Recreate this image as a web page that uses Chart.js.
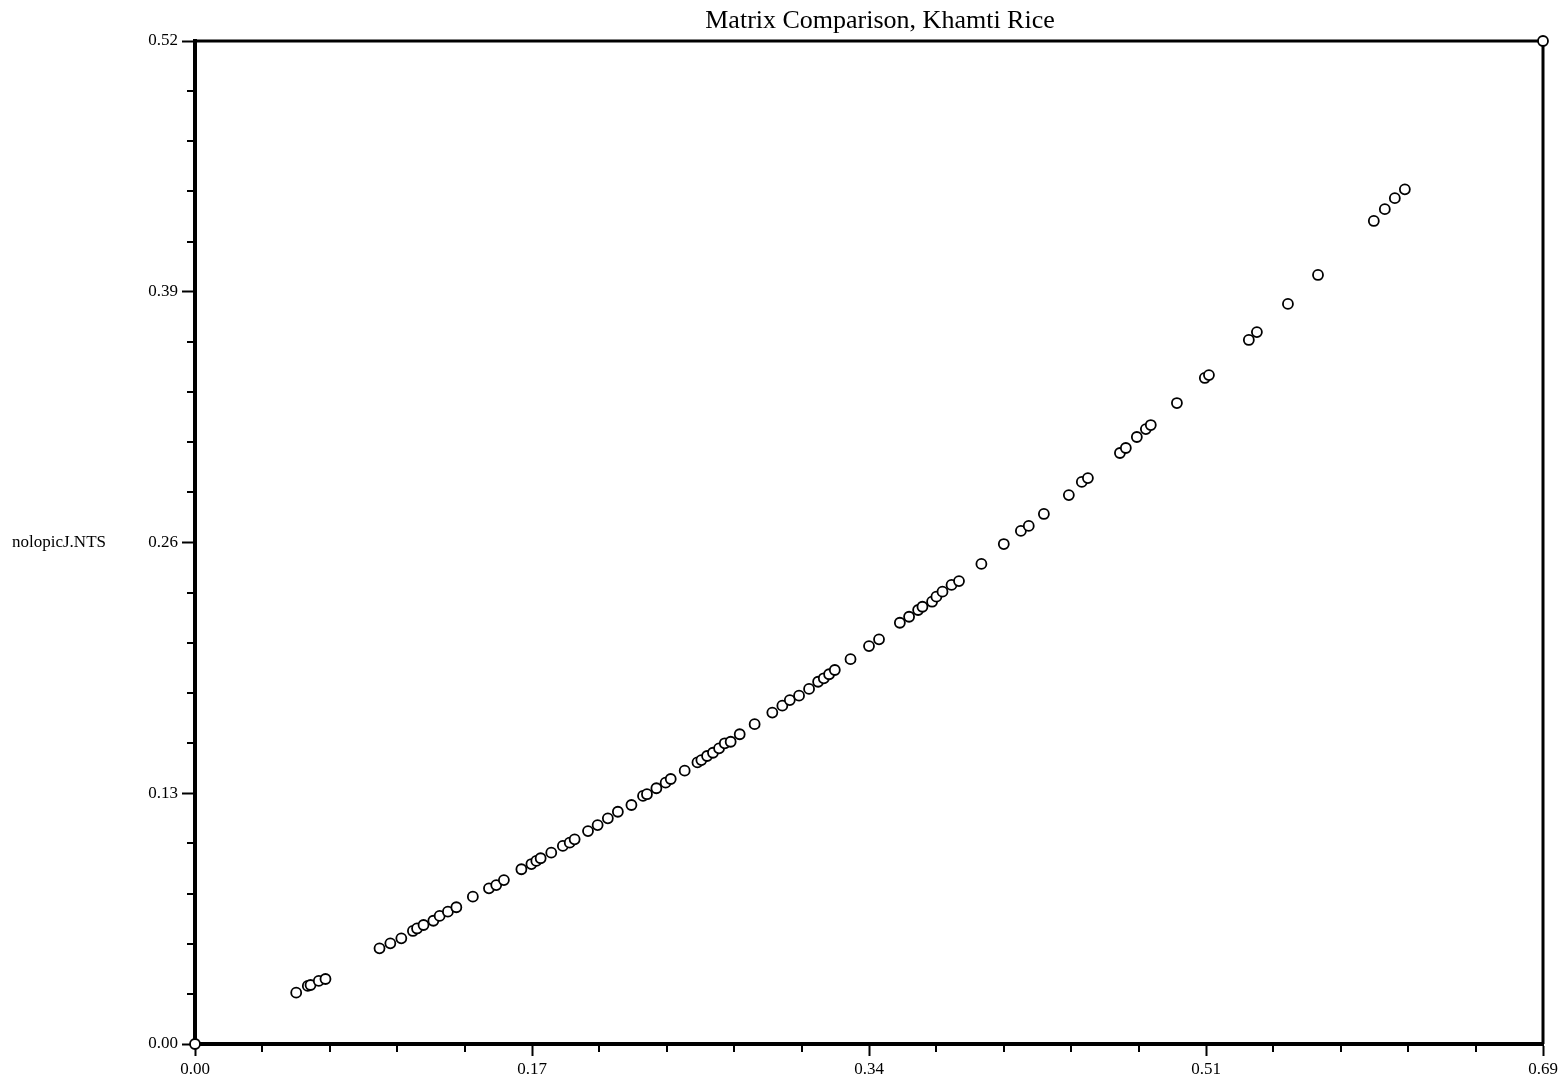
<!DOCTYPE html>
<html><head><meta charset="utf-8">
<script src="https://cdn.jsdelivr.net/npm/chart.js@4/dist/chart.umd.min.js"></script>
<style>html,body{margin:0;padding:0;background:#fff;}#wrap{width:1564px;height:1078px;position:relative;}</style>
</head><body><div id="wrap"><canvas id="c" width="1564" height="1078"></canvas></div>
<script>
const titleText = 'Matrix Comparison, Khamti Rice';
const yAxisLabel = 'nolopicJ.NTS';
const xTickValues = [0, 0.1715, 0.343, 0.5145, 0.686];
const xTickLabels = ['0.00', '0.17', '0.34', '0.51', '0.69'];
const yTickValues = [0, 0.13, 0.26, 0.39, 0.52];
const yTickLabels = ['0.00', '0.13', '0.26', '0.39', '0.52'];
const xValues = [0, 0.0515, 0.0574, 0.0588, 0.0630, 0.0664, 0.0939, 0.0994, 0.1050, 0.1109, 0.1130, 0.1163, 0.1213, 0.1245, 0.1287, 0.1330, 0.1414, 0.1496, 0.1533, 0.1572, 0.1661, 0.1712, 0.1737, 0.1759, 0.1813, 0.1872, 0.1907, 0.1932, 0.2000, 0.2049, 0.2101, 0.2152, 0.2221, 0.2280, 0.2300, 0.2348, 0.2395, 0.2421, 0.2492, 0.2557, 0.2577, 0.2606, 0.2636, 0.2667, 0.2696, 0.2726, 0.2772, 0.2848, 0.2938, 0.2989, 0.3027, 0.3074, 0.3125, 0.3171, 0.3200, 0.3227, 0.3256, 0.3336, 0.3430, 0.3481, 0.3587, 0.3634, 0.3680, 0.3702, 0.3751, 0.3773, 0.3804, 0.3850, 0.3888, 0.4002, 0.4116, 0.4203, 0.4243, 0.4320, 0.4447, 0.4513, 0.4544, 0.4707, 0.4737, 0.4793, 0.4839, 0.4864, 0.4997, 0.5139, 0.5160, 0.5363, 0.5404, 0.5562, 0.5715, 0.5999, 0.6055, 0.6106, 0.6157, 0.686];
const yValues = [0, 0.0266, 0.0301, 0.0306, 0.0327, 0.0337, 0.0496, 0.0522, 0.0548, 0.0586, 0.0599, 0.0617, 0.0639, 0.0664, 0.0686, 0.0709, 0.0764, 0.0807, 0.0824, 0.0850, 0.0906, 0.0933, 0.0949, 0.0963, 0.0992, 0.1027, 0.1044, 0.1061, 0.1104, 0.1135, 0.1170, 0.1204, 0.1239, 0.1286, 0.1295, 0.1326, 0.1355, 0.1374, 0.1417, 0.1460, 0.1472, 0.1493, 0.1510, 0.1533, 0.1559, 0.1567, 0.1606, 0.1658, 0.1718, 0.1754, 0.1783, 0.1806, 0.1841, 0.1878, 0.1896, 0.1917, 0.1939, 0.1995, 0.2063, 0.2098, 0.2184, 0.2215, 0.2250, 0.2267, 0.2293, 0.2319, 0.2345, 0.2380, 0.2400, 0.2489, 0.2592, 0.2660, 0.2686, 0.2748, 0.2846, 0.2914, 0.2934, 0.3064, 0.3090, 0.3147, 0.3188, 0.3209, 0.3323, 0.3453, 0.3468, 0.3650, 0.3691, 0.3837, 0.3987, 0.4267, 0.4328, 0.4385, 0.4431, 0.52];
const minorPerMajor = 5;

const points = xValues.map((x, i) => ({x: x, y: yValues[i]}));
Chart.defaults.font.family = "'Liberation Serif', 'Times New Roman', serif";
Chart.defaults.color = '#000';

const framePlugin = {
  id: 'frame',
  beforeDatasetsDraw(chart) {
    const ctx = chart.ctx, a = chart.chartArea;
    const xs = chart.scales.x, ys = chart.scales.y;
    ctx.save();
    ctx.strokeStyle = '#000';
    ctx.lineWidth = 3;
    ctx.beginPath();
    ctx.moveTo(a.left, a.top); ctx.lineTo(a.right, a.top); ctx.lineTo(a.right, a.bottom);
    ctx.stroke();
    ctx.lineWidth = 2;
    const xStep = (xTickValues[1] - xTickValues[0]) / minorPerMajor;
    const nX = Math.round((xTickValues[xTickValues.length-1]-xTickValues[0]) / xStep);
    ctx.beginPath();
    for (let i = 0; i <= nX; i++) {
      if (i % minorPerMajor === 0) continue;
      const px = Math.round(xs.getPixelForValue(xTickValues[0] + i * xStep));
      ctx.moveTo(px, a.bottom); ctx.lineTo(px, a.bottom + 8);
    }
    const yStep = (yTickValues[1] - yTickValues[0]) / minorPerMajor;
    const nY = Math.round((yTickValues[yTickValues.length-1]-yTickValues[0]) / yStep);
    for (let i = 0; i <= nY; i++) {
      if (i % minorPerMajor === 0) continue;
      const py = Math.round(ys.getPixelForValue(yTickValues[0] + i * yStep));
      ctx.moveTo(a.left - 8, py); ctx.lineTo(a.left, py);
    }
    ctx.stroke();
    ctx.restore();
  },
  afterDraw(chart) {
    const ctx = chart.ctx, a = chart.chartArea;
    ctx.save();
    ctx.fillStyle = '#000';
    ctx.font = "26px 'Liberation Serif'";
    ctx.textAlign = 'center';
    ctx.textBaseline = 'alphabetic';
    ctx.fillText(titleText, 880, 28);
    ctx.font = "17px 'Liberation Serif'";
    ctx.textAlign = 'left';
    ctx.textBaseline = 'middle';
    ctx.fillText(yAxisLabel, 12, (a.top + a.bottom) / 2);
    ctx.restore();
  }
};

new Chart(document.getElementById('c'), {
  type: 'scatter',
  data: { datasets: [{
    data: points,
    pointRadius: 5,
    pointHoverRadius: 5,
    pointBorderWidth: 1.8,
    pointBorderColor: '#000',
    pointBackgroundColor: '#fff',
    showLine: false,
    clip: false
  }]},
  options: {
    responsive: false,
    animation: false,
    devicePixelRatio: 1,
    events: [],
    layout: { padding: { left: 0, top: 41, right: 21, bottom: 0 } },
    plugins: { legend: { display: false }, tooltip: { enabled: false }, title: { display: false } },
    scales: {
      x: {
        type: 'linear', position: 'bottom',
        min: xTickValues[0], max: xTickValues[xTickValues.length-1],
        afterBuildTicks(s) { s.ticks = xTickValues.map(v => ({value: v})); },
        afterFit(s) { s.height = 34; s.paddingLeft = 0; s.paddingRight = 0; },
        ticks: { autoSkip: false, maxRotation: 0, padding: 3, font: { size: 17 }, color: '#000',
          callback(v) { const i = xTickValues.indexOf(v); return i >= 0 ? xTickLabels[i] : ''; } },
        grid: { drawOnChartArea: false, drawTicks: true, tickLength: 12, tickWidth: 2, tickColor: '#000', color: '#000' },
        border: { display: true, width: 4, color: '#000' }
      },
      y: {
        type: 'linear', position: 'left',
        min: yTickValues[0], max: yTickValues[yTickValues.length-1],
        afterBuildTicks(s) { s.ticks = yTickValues.map(v => ({value: v})); },
        afterFit(s) { s.width = 195; s.paddingTop = 0; s.paddingBottom = 0; },
        ticks: { autoSkip: false, padding: 4, font: { size: 17 }, color: '#000',
          callback(v) { const i = yTickValues.indexOf(v); return i >= 0 ? yTickLabels[i] : ''; } },
        grid: { drawOnChartArea: false, drawTicks: true, tickLength: 13, tickWidth: 2, tickColor: '#000', color: '#000' },
        border: { display: true, width: 4, color: '#000' }
      }
    }
  },
  plugins: [framePlugin]
});
</script></body></html>
